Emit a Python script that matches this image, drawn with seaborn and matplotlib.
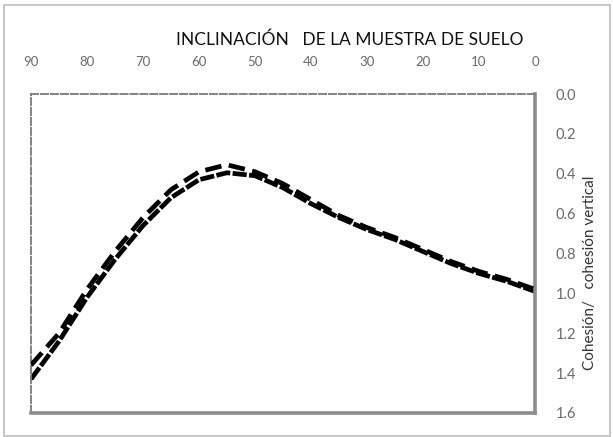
import matplotlib
matplotlib.use("Agg")
import matplotlib.pyplot as plt
import seaborn as sns
import pandas as pd
from matplotlib.patches import Rectangle

# Data
angles = [90, 85, 80, 75, 70, 65, 60, 55, 50, 45, 40, 35, 30, 25, 20, 15, 10, 5, 0]
ratio_upper = [1.36, 1.20, 0.98, 0.79, 0.62, 0.48, 0.39, 0.355, 0.39, 0.45, 0.53, 0.61, 0.67, 0.72, 0.78, 0.84, 0.89, 0.93, 0.98]
ratio_lower = [1.43, 1.24, 1.02, 0.83, 0.66, 0.52, 0.43, 0.395, 0.41, 0.47, 0.55, 0.62, 0.68, 0.73, 0.79, 0.85, 0.90, 0.94, 0.99]
x_ticks = [90, 80, 70, 60, 50, 40, 30, 20, 10, 0]
y_ticks = [0.0, 0.2, 0.4, 0.6, 0.8, 1.0, 1.2, 1.4, 1.6]
title = "INCLINACIÓN   DE LA MUESTRA DE SUELO"
ylabel = "Cohesión/   cohesión vertical"

sns.set_style("white")
plt.rcParams['font.family'] = ['Lato', 'DejaVu Sans']

fig = plt.figure(figsize=(6.13, 4.37), dpi=100)
ax = fig.add_axes([31/613, 1-413/437, (535-31)/613, (413-94)/437])

df_u = pd.DataFrame({"ang": angles, "val": ratio_upper})
df_l = pd.DataFrame({"ang": angles, "val": ratio_lower})

sns.lineplot(data=df_l, x="ang", y="val", ax=ax, color="black", lw=3.4, sort=False)
ax.lines[-1].set_dashes([3, 0.5])
sns.lineplot(data=df_u, x="ang", y="val", ax=ax, color="black", lw=3.4, sort=False)
ax.lines[-1].set_dashes([3.5, 1.6])
ax.lines[-1].set_zorder(3)

ax.set_xlim(90, 0)
ax.set_ylim(1.6, 0.0)
ax.set_xticks(x_ticks)
ax.set_yticks(y_ticks)
ax.set_yticklabels([f"{v:.1f}" for v in y_ticks])
ax.xaxis.tick_top()
ax.yaxis.tick_right()
ax.tick_params(axis='x', length=0, pad=19, labelsize=9.5, labelcolor="#6a6a6a")
ax.tick_params(axis='y', length=0, pad=15, labelsize=10.5, labelcolor="#6a6a6a")
ax.set_xlabel("")
ax.set_ylabel("")

for s in ["top", "left"]:
    ax.spines[s].set_linestyle((0, (4, 1.5)))
    ax.spines[s].set_color("#7a7a7a")
    ax.spines[s].set_linewidth(1.3)
for s in ["right", "bottom"]:
    ax.spines[s].set_color("#8c8c8c")
    ax.spines[s].set_linewidth(2.6)

fig.text(350/613, 1-40/437, title, ha="center", va="center", fontsize=12.5, color="#111111")
fig.text(590/613, 1-273/437, ylabel, ha="center", va="center", rotation=90, fontsize=11, color="#333333")

fig.patches.append(Rectangle((4/613, 1/437), 606/613, 431/437, transform=fig.transFigure,
                             fill=False, edgecolor="#bdbdbd", linewidth=1.2))

fig.savefig("out.png", dpi=100)
